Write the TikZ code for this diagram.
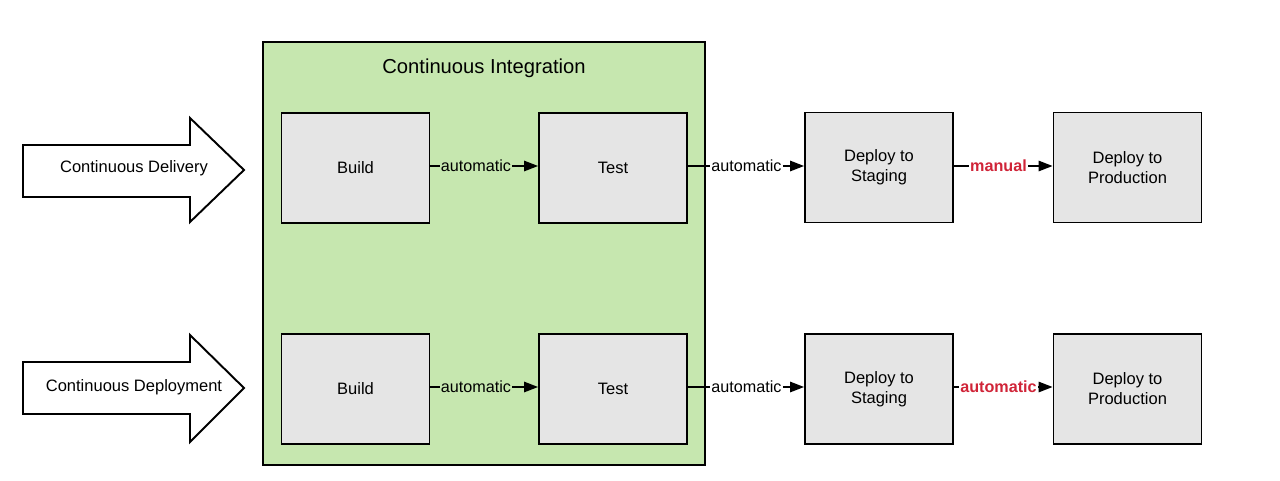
\documentclass[tikz,border=0pt]{standalone}
\usepackage{fontspec}
\setmainfont{Liberation Sans}
\usetikzlibrary{arrows.meta}
\definecolor{cigreen}{RGB}{198,231,175}
\definecolor{stepgray}{RGB}{229,229,229}
\definecolor{manualred}{RGB}{208,36,56}
\tikzset{
  stepbox/.style={draw,line width=1.1pt,fill=stepgray,minimum width=2.96cm,minimum height=2.2cm,
    align=center,line join=miter,font=\fontsize{9.4}{11.3}\selectfont},
  lbl/.style={inner sep=0.6pt,font=\fontsize{9.2}{11}\selectfont},
  redlbl/.style={lbl,text=manualred,font=\fontsize{9.2}{11}\selectfont\bfseries},
  flow/.style={line width=0.8pt},
  flowarr/.style={line width=0.8pt,-{Triangle[length=8pt,width=6pt]}},
  bigarrow/.style={draw,line width=1.1pt,fill=white,line join=miter}
}
\begin{document}
\begin{tikzpicture}[x=0.02cm,y=-0.02cm]
\useasboundingbox (0,0) rectangle (1280,480);
% continuous integration
\draw[line width=1.1pt,fill=cigreen] (263,42) rectangle (705,465);
\node[font=\fontsize{11.5}{13}\selectfont] (cititle) at (484,68) {Continuous Integration};
% delivery row
\node[stepbox] (build1) at (355.5,168) {Build};
\node[stepbox] (test1) at (613,168) {Test};
\node[stepbox] (stage1) at (879,167.5) {Deploy to\\Staging};
\node[stepbox] (prod1) at (1127.5,167.5) {Deploy to\\Production};
% deployment row
\node[stepbox] (build2) at (355.5,389) {Build};
\node[stepbox] (test2) at (613,389) {Test};
\node[stepbox] (stage2) at (879,389) {Deploy to\\Staging};
\node[stepbox] (prod2) at (1127.5,389) {Deploy to\\Production};
% labels
\node[lbl] (a1) at (476,166) {automatic};
\node[lbl] (a2) at (746.5,166) {automatic};
\node[redlbl] (m1) at (998.5,166) {manual};
\node[lbl] (a3) at (476,387) {automatic};
\node[lbl] (a4) at (746.5,387) {automatic};
\node[redlbl] (m2) at (998.5,387) {automatic};
\draw[flow] (build1.east|-a1) -- (a1.west);
\draw[flowarr] (a1.east) -- (test1.west|-a1);
\draw[flow] (test1.east|-a2) -- (a2.west);
\draw[flowarr] (a2.east) -- (stage1.west|-a2);
\draw[flow] (stage1.east|-m1) -- (m1.west);
\draw[flowarr] (m1.east) -- (prod1.west|-m1);
\draw[flow] (build2.east|-a3) -- (a3.west);
\draw[flowarr] (a3.east) -- (test2.west|-a3);
\draw[flow] (test2.east|-a4) -- (a4.west);
\draw[flowarr] (a4.east) -- (stage2.west|-a4);
\draw[flow] (stage2.east|-m2) -- (m2.west);
\draw[flowarr] (m2.east) -- (prod2.west|-m2);
% big arrows
\draw[bigarrow] (23,145) -- (190,145) -- (190,118) -- (244,170) -- (190,222) -- (190,197) -- (23,197) -- cycle;
\node[font=\fontsize{9.4}{11}\selectfont] (delivery) at (134,168) {Continuous Delivery};
\draw[bigarrow] (23,362) -- (190,362) -- (190,335) -- (244,388) -- (190,442) -- (190,414) -- (23,414) -- cycle;
\node[font=\fontsize{9.4}{11}\selectfont] (deployment) at (134,387) {Continuous Deployment};
\end{tikzpicture}
\end{document}
